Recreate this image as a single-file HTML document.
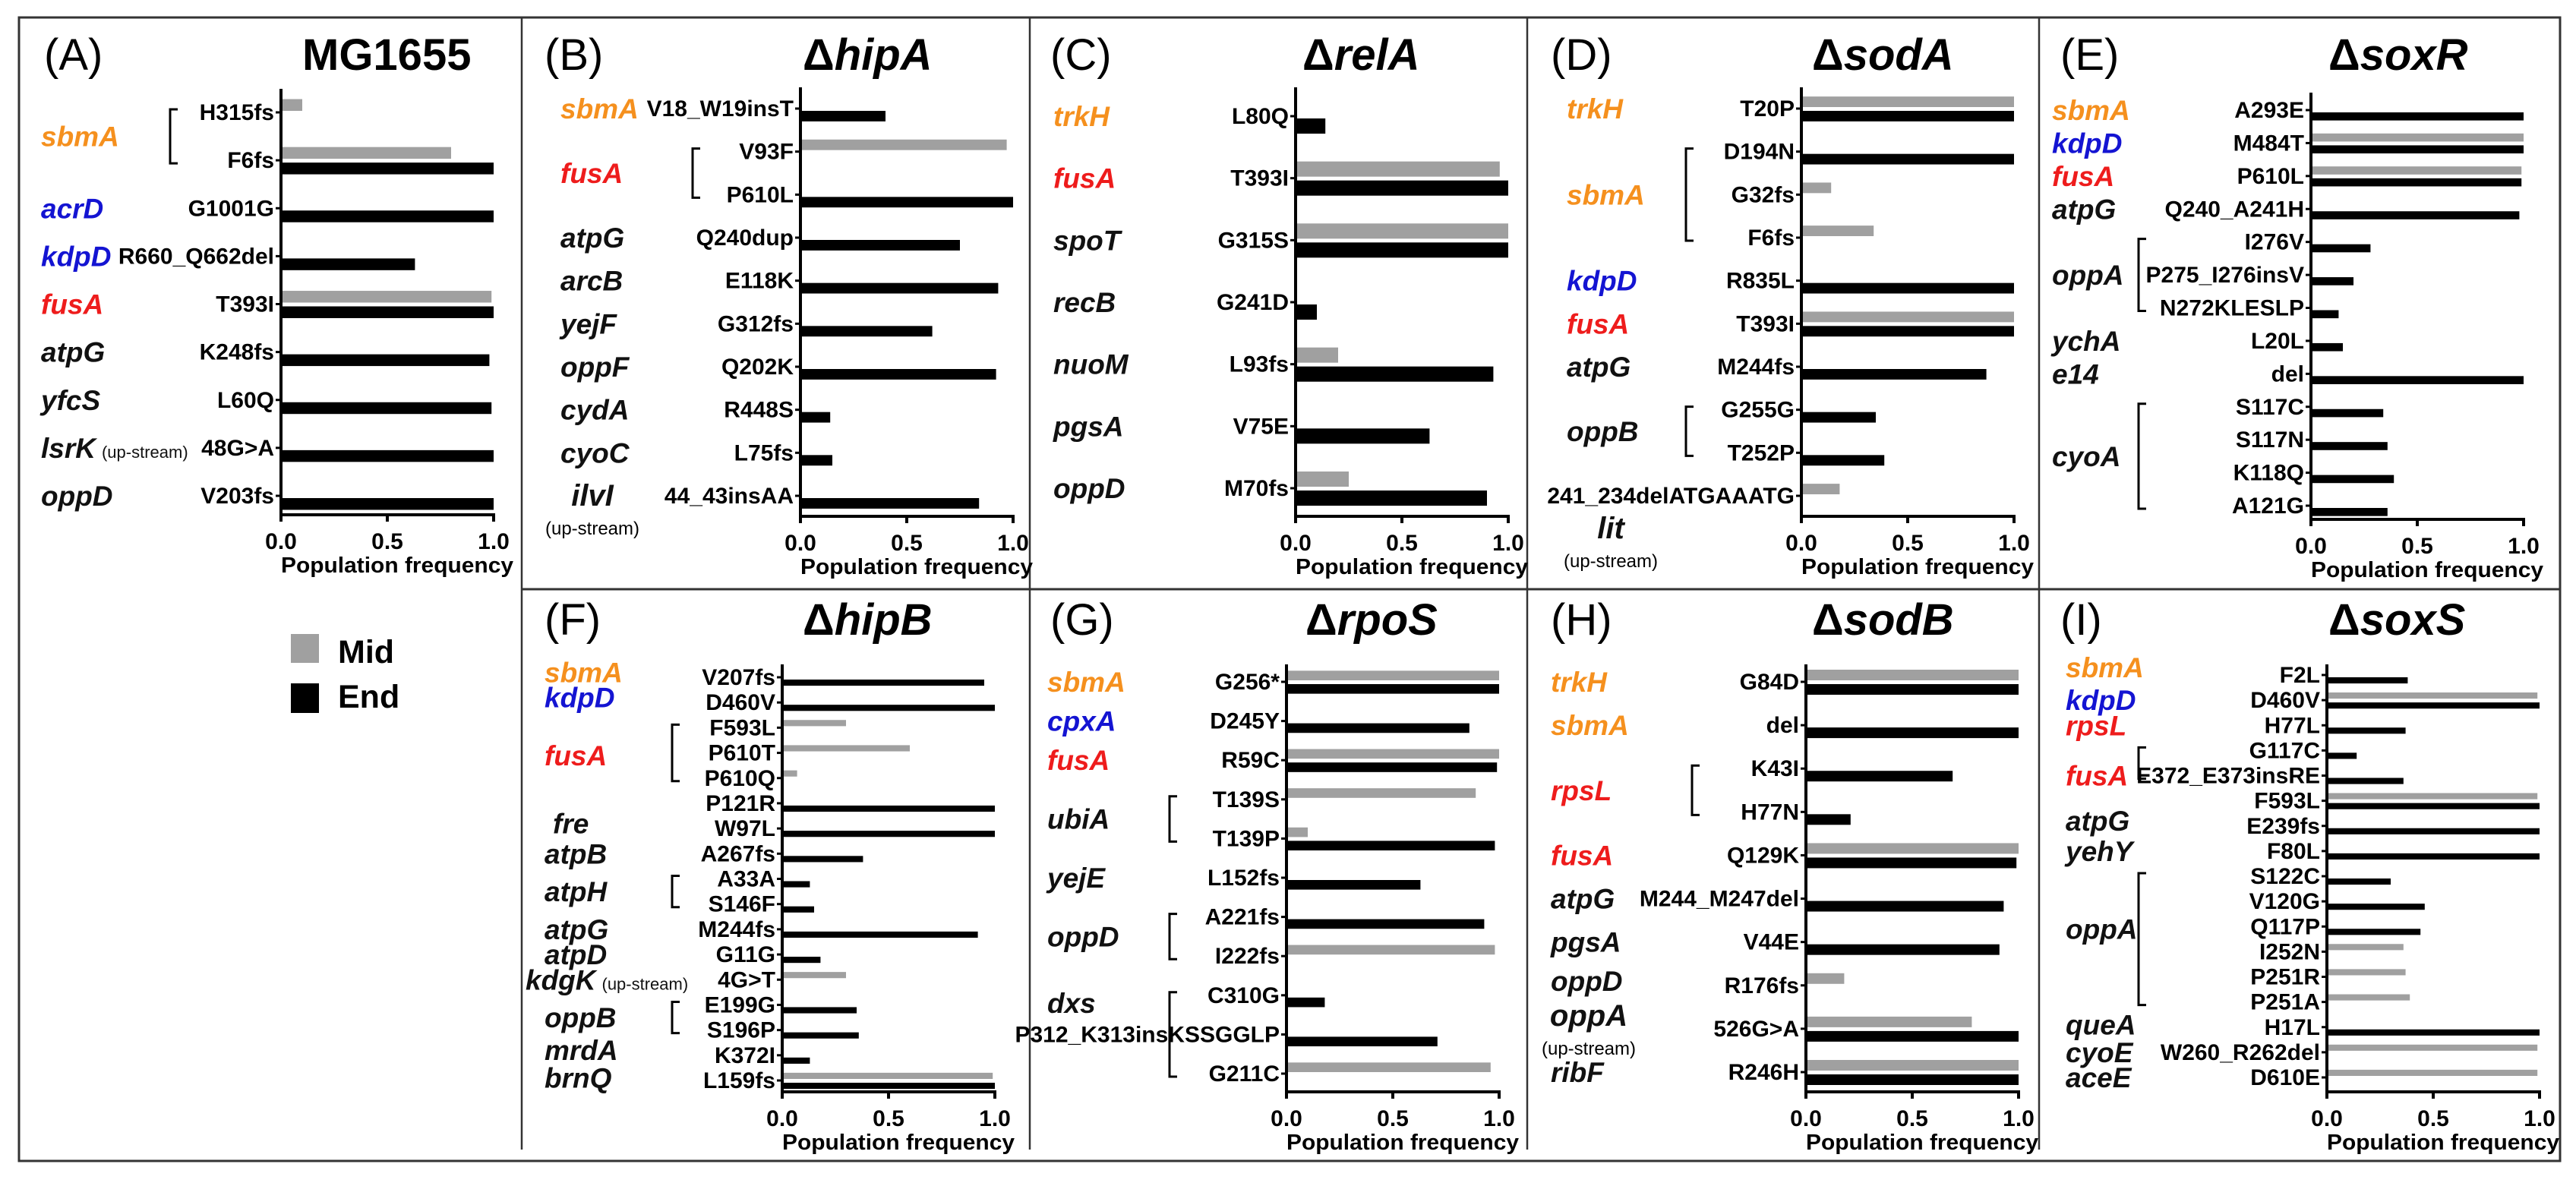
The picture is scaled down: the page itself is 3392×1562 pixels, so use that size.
<!DOCTYPE html>
<html><head><meta charset="utf-8"><style>
html,body{margin:0;padding:0;background:#fff;}
svg{display:block;}
text{font-family:"Liberation Sans",sans-serif;}
</style></head>
<body>
<svg id="fig" xmlns="http://www.w3.org/2000/svg" width="3392" height="1562" viewBox="0 0 3392 1562">
<rect x="0" y="0" width="3392" height="1562" fill="#fff"/>
<g stroke="#333" fill="none">
<rect x="25" y="23" width="3346" height="1506" stroke-width="3"/>
<line x1="687" y1="23" x2="687" y2="1514" stroke-width="2.5"/>
<line x1="1356" y1="23" x2="1356" y2="1514" stroke-width="2.5"/>
<line x1="2011" y1="23" x2="2011" y2="1514" stroke-width="2.5"/>
<line x1="2685" y1="23" x2="2685" y2="1514" stroke-width="2.5"/>
<line x1="687" y1="776" x2="3371" y2="776" stroke-width="3"/>
</g>
<g>
<rect x="383" y="835" width="37" height="38" fill="#a0a0a0"/>
<text x="445" y="873" font-size="43" font-weight="bold">Mid</text>
<rect x="383" y="900" width="37" height="39" fill="#000"/>
<text x="445" y="932" font-size="43" font-weight="bold">End</text>
</g>
</svg>
<script>
// ---------- data ----------
const A_muts=["H315fs","F6fs","G1001G","R660_Q662del","T393I","K248fs","L60Q","48G>A","V203fs"];
const A_mid=[0.1,0.8,0,0,0.99,0,0,0,0];
const A_end=[0,1.0,1.0,0.63,1.0,0.98,0.99,1.0,1.0];
const B_muts=["V18_W19insT","V93F","P610L","Q240dup","E118K","G312fs","Q202K","R448S","L75fs","44_43insAA"];
const B_mid=[0,0.97,0,0,0,0,0,0,0,0];
const B_end=[0.4,0,1.0,0.75,0.93,0.62,0.92,0.14,0.15,0.84];
const C_muts=["L80Q","T393I","G315S","G241D","L93fs","V75E","M70fs"];
const C_mid=[0,0.96,1.0,0,0.2,0,0.25];
const C_end=[0.14,1.0,1.0,0.1,0.93,0.63,0.9];
const D_muts=["T20P","D194N","G32fs","F6fs","R835L","T393I","M244fs","G255G","T252P","241_234delATGAAATG"];
const D_mid=[1.0,0,0.14,0.34,0,1.0,0,0,0,0.18];
const D_end=[1.0,1.0,0,0,1.0,1.0,0.87,0.35,0.39,0];
const E_muts=["A293E","M484T","P610L","Q240_A241H","I276V","P275_I276insV","N272KLESLP","L20L","del","S117C","S117N","K118Q","A121G"];
const E_mid=[0,1.0,0.99,0,0,0,0,0,0,0,0,0,0];
const E_end=[1.0,1.0,0.99,0.98,0.28,0.2,0.13,0.15,1.0,0.34,0.36,0.39,0.36];
const F_muts=["V207fs","D460V","F593L","P610T","P610Q","P121R","W97L","A267fs","A33A","S146F","M244fs","G11G","4G>T","E199G","S196P","K372I","L159fs"];
const F_mid=[0,0,0.3,0.6,0.07,0,0,0,0,0,0,0,0.3,0,0,0,0.99];
const F_end=[0.95,1.0,0,0,0,1.0,1.0,0.38,0.13,0.15,0.92,0.18,0,0.35,0.36,0.13,1.0];
const G_muts=["G256*","D245Y","R59C","T139S","T139P","L152fs","A221fs","I222fs","C310G","P312_K313insKSSGGLP","G211C"];
const G_mid=[1.0,0,1.0,0.89,0.1,0,0,0.98,0,0,0.96];
const G_end=[1.0,0.86,0.99,0,0.98,0.63,0.93,0,0.18,0.71,0];
const H_muts=["G84D","del","K43I","H77N","Q129K","M244_M247del","V44E","R176fs","526G>A","R246H"];
const H_mid=[1.0,0,0,0,1.0,0,0,0.18,0.78,1.0];
const H_end=[1.0,1.0,0.69,0.21,0.99,0.93,0.91,0,1.0,1.0];
const I_muts=["F2L","D460V","H77L","G117C","E372_E373insRE","F593L","E239fs","F80L","S122C","V120G","Q117P","I252N","P251R","P251A","H17L","W260_R262del","D610E"];
const I_mid=[0,0.99,0,0,0,0.99,0,0,0,0,0,0.36,0.37,0.39,0,0.99,0.99];
const I_end=[0.38,1.0,0.37,0.14,0.36,1.0,1.0,1.0,0.3,0.46,0.44,0,0,0,1.0,0,0];
const xTicks=[0,0.5,1.0];
const xTickLabels=["0.0","0.5","1.0"];

// gene annotations: [name, color, rowIndex, bracketFrom, bracketTo]
const A_genes=[["sbmA","o",0.5,0,1],["acrD","b",2],["kdpD","b",3],["fusA","r",4],["atpG","k",5],["yfcS","k",6],["lsrK","k",7,null,null,"up"],["oppD","k",8]];
const B_genes=[["sbmA","o",0],["fusA","r",1.5,1,2],["atpG","k",3],["arcB","k",4],["yejF","k",5],["oppF","k",6],["cydA","k",7],["cyoC","k",8],["ilvI","k",9,null,null,"below"]];
const C_genes=[["trkH","o",0],["fusA","r",1],["spoT","k",2],["recB","k",3],["nuoM","k",4],["pgsA","k",5],["oppD","k",6]];
const D_genes=[["trkH","o",0],["sbmA","o",2,1,3],["kdpD","b",4],["fusA","r",5],["atpG","k",6],["oppB","k",7.5,7,8],["lit","k",9.75,null,null,"below"]];
const E_genes=[["sbmA","o",0],["kdpD","b",1],["fusA","r",2],["atpG","k",3],["oppA","k",5,4,6],["ychA","k",7],["e14","k",8],["cyoA","k",10.5,9,12]];
const F_genes=[["sbmA","o",-0.2],["kdpD","b",0.8],["fusA","r",3.1,2,4],["fre","k",5.8],["atpB","k",7],["atpH","k",8.5,8,9],["atpG","k",10],["atpD","k",11],["kdgK","k",12,null,null,"up"],["oppB","k",13.5,13,14],["mrdA","k",14.8],["brnQ","k",15.9]];
const G_genes=[["sbmA","o",0],["cpxA","b",1],["fusA","r",2],["ubiA","k",3.5,3,4],["yejE","k",5],["oppD","k",6.5,6,7],["dxs","k",8.2,8,10]];
const H_genes=[["trkH","o",0],["sbmA","o",1],["rpsL","r",2.5,2,3],["fusA","r",4],["atpG","k",5],["pgsA","k",6],["oppD","k",6.9],["oppA","k",7.7,null,null,"below"],["ribF","k",9]];
const I_genes=[["sbmA","o",-0.3],["kdpD","b",1],["rpsL","r",2],["fusA","r",4,3,4],["atpG","k",5.8],["yehY","k",7],["oppA","k",10.1,8,13],["queA","k",13.9],["cyoE","k",15],["aceE","k",16]];

// ---------- layout ----------
const panels=[
 {id:"A",letter:"(A)",title:"MG1655",delta:false,lx:58,tx:398,ty:92,x0:370,top:117,bot:678,y0:148,y1:653,gx:54,bx:224,muts:A_muts,mid:A_mid,end:A_end,genes:A_genes},
 {id:"B",letter:"(B)",title:"hipA",delta:true,lx:717,tx:1057,ty:92,x0:1054,top:115,bot:680,y0:143,y1:653,gx:738,bx:912,muts:B_muts,mid:B_mid,end:B_end,genes:B_genes},
 {id:"C",letter:"(C)",title:"relA",delta:true,lx:1383,tx:1715,ty:92,x0:1706,top:115,bot:680,y0:153,y1:643,gx:1387,bx:null,muts:C_muts,mid:C_mid,end:C_end,genes:C_genes},
 {id:"D",letter:"(D)",title:"sodA",delta:true,lx:2042,tx:2386,ty:92,x0:2372,top:115,bot:680,y0:143,y1:653,gx:2063,bx:2220,muts:D_muts,mid:D_mid,end:D_end,genes:D_genes},
 {id:"E",letter:"(E)",title:"soxR",delta:true,lx:2713,tx:3066,ty:92,x0:3043,top:122,bot:684,y0:145,y1:666,gx:2702,bx:2816,muts:E_muts,mid:E_mid,end:E_end,genes:E_genes},
 {id:"F",letter:"(F)",title:"hipB",delta:true,lx:717,tx:1057,ty:836,x0:1030,top:875,bot:1438,y0:892,y1:1423,gx:717,bx:885,muts:F_muts,mid:F_mid,end:F_end,genes:F_genes},
 {id:"G",letter:"(G)",title:"rpoS",delta:true,lx:1383,tx:1719,ty:836,x0:1694,top:875,bot:1438,y0:898,y1:1414,gx:1379,bx:1540,muts:G_muts,mid:G_mid,end:G_end,genes:G_genes},
 {id:"H",letter:"(H)",title:"sodB",delta:true,lx:2042,tx:2386,ty:836,x0:2378,top:875,bot:1438,y0:898,y1:1412,gx:2042,bx:2228,muts:H_muts,mid:H_mid,end:H_end,genes:H_genes},
 {id:"I",letter:"(I)",title:"soxS",delta:true,lx:2713,tx:3066,ty:836,x0:3064,top:875,bot:1438,y0:889,y1:1419,gx:2720,bx:2816,muts:I_muts,mid:I_mid,end:I_end,genes:I_genes}
];
const COLORS={o:"#f5901e",b:"#1414d2",r:"#ee1c1c",k:"#111"};
const AXW=280;
const NS="http://www.w3.org/2000/svg";
const svg=document.getElementById("fig");
function mk(tag,attrs,parent){const e=document.createElementNS(NS,tag);for(const k in attrs)e.setAttribute(k,attrs[k]);parent.appendChild(e);return e;}

panels.forEach(p=>{
  const g=mk("g",{},svg);
  
  
  const n=p.muts.length;
  const s=(p.y1-p.y0)/(n-1);
  const yRow=i=>p.y0+i*s;
  const xVal=v=>p.x0+v*AXW;
  const bh=Math.max(7,s*0.245);
  // titles
  const lt=mk("text",{x:p.lx,y:p.ty,"font-size":58},g);
  
  
  lt.textContent=p.letter;
  const tt=mk("text",{x:p.tx,y:p.ty,"font-size":58,"font-weight":"bold"},g);
  
  
  if(p.delta){
    const d=mk("tspan",{},tt);d.textContent="\u0394";
    const it=mk("tspan",{"font-style":"italic"},tt);it.textContent=p.title;
  } else tt.textContent=p.title;
  // bars
  for(let i=0;i<n;i++){
    const y=yRow(i);
    if(p.mid[i]>0){
      const r=mk("rect",{x:xVal(0),y:y-bh-2,width:xVal(p.mid[i])-xVal(0),height:bh,fill:"#a0a0a0"},g);
      
      
    }
    if(p.end[i]>0){
      const r=mk("rect",{x:xVal(0),y:y+3,width:xVal(p.end[i])-xVal(0),height:bh,fill:"#000"},g);
      
      
    }
    const tk=mk("line",{x1:p.x0-7,x2:p.x0,y1:y,y2:y,stroke:"#000","stroke-width":3},g);
    
    
    const lb=mk("text",{x:p.x0-9,y:y+10,"text-anchor":"end","font-size":30,"font-weight":"bold"},g);
    
    
    lb.textContent=p.muts[i];
  }
  // axes
  const ya=mk("line",{x1:p.x0,x2:p.x0,y1:p.top,y2:p.bot+2,stroke:"#000","stroke-width":4},g);
  
  
  const xa=mk("line",{x1:p.x0-2,x2:xVal(1)+2,y1:p.bot,y2:p.bot,stroke:"#000","stroke-width":4},g);
  
  
  xTicks.forEach((v,k)=>{
    const t=mk("line",{x1:xVal(v),x2:xVal(v),y1:p.bot,y2:p.bot+9,stroke:"#000","stroke-width":4},g);
    
    
    const tl=mk("text",{x:xVal(v),y:p.bot+45,"text-anchor":"middle","font-size":30,"font-weight":"bold"},g);
    
    
    tl.textContent=xTickLabels[k];
  });
  const xt=mk("text",{x:p.x0,y:p.bot+76,"font-size":29,"font-weight":"bold",textLength:306,lengthAdjust:"spacingAndGlyphs"},g);
  
  
  xt.textContent="Population frequency";
  // genes
  p.genes.forEach(gn=>{
    const [name,c,row,bf,bt,extra]=gn;
    const y=yRow(row);
    if(extra==="below"){
      const cx=p.gx+(p.id==="D"?58:p.id==="H"?50:42);
      const ty=p.id==="D"?696+13:y+13;
      const t=mk("text",{x:cx,y:ty,"text-anchor":"middle","font-size":40,"font-weight":"bold","font-style":"italic",fill:COLORS[c]},g);
      
      
      t.textContent=name;
      const u=mk("text",{x:cx,y:ty+38,"text-anchor":"middle","font-size":24},g);
      
      
      u.textContent="(up-stream)";
    } else {
      const gx=(p.id==="F"&&name==="kdgK")?692:(p.id==="F"&&name==="fre")?728:p.gx;
      const t=mk("text",{x:gx,y:y+13,"font-size":37,"font-weight":"bold","font-style":"italic",fill:COLORS[c]},g);
      
      
      t.textContent=name;
      if(extra==="up"){
        const u=mk("tspan",{"font-size":22,"font-style":"normal","font-weight":"normal",dx:8},t);
        u.textContent="(up-stream)";
      }
    }
    if(bf!=null){
      const y1=yRow(bf)-4,y2=yRow(bt)+4;
      const br=mk("path",{d:`M${p.bx+10},${y1} H${p.bx} V${y2} H${p.bx+10}`,fill:"none",stroke:"#000","stroke-width":3},g);
      
      
    }
  });
});
</script>
</body></html>
